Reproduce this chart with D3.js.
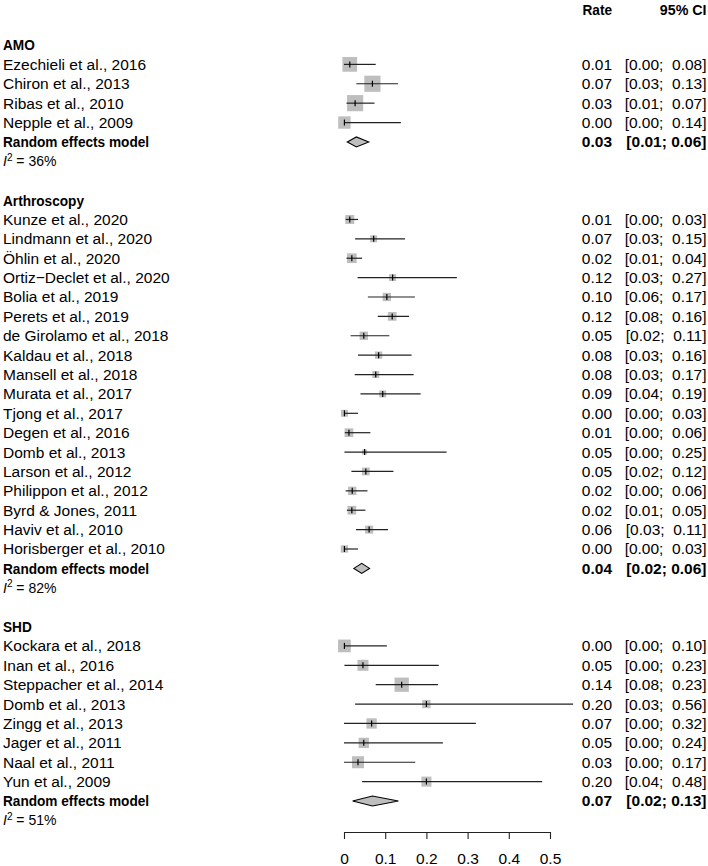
<!DOCTYPE html>
<html>
<head>
<meta charset="utf-8">
<script src="https://cdn.jsdelivr.net/npm/d3@7"></script>
<style>
  html, body { margin: 0; padding: 0; background: #fff; }
  svg { display: block; font-family: "Liberation Sans", Arial, Helvetica, sans-serif; }
  text { white-space: pre; }
</style>
</head>
<body>
<svg id="chart" width="708" height="866"></svg>
<script>
// ---------------- DATA ----------------
const groupNames = ["AMO", "Arthroscopy", "SHD"];

const amoStudies = ["Ezechieli et al., 2016", "Chiron et al., 2013", "Ribas et al., 2010", "Nepple et al., 2009"];
const amoRate  = [0.014, 0.069, 0.027, 0.001];
const amoLower = [0.000, 0.030, 0.006, 0.000];
const amoUpper = [0.077, 0.131, 0.074, 0.138];
const amoWeight = [24, 29, 29, 17];
const amoPooled = [0.030, 0.008, 0.060];
const amoI2 = 36;

const arthStudies = ["Kunze et al., 2020", "Lindmann et al., 2020", "Öhlin et al., 2020", "Ortiz\u2212Declet et al., 2020",
  "Bolia et al., 2019", "Perets et al., 2019", "de Girolamo et al., 2018", "Kaldau et al., 2018", "Mansell et al., 2018",
  "Murata et al., 2017", "Tjong et al., 2017", "Degen et al., 2016", "Domb et al., 2013", "Larson et al., 2012",
  "Philippon et al., 2012", "Byrd & Jones, 2011", "Haviv et al., 2010", "Horisberger et al., 2010"];
const arthRate  = [0.014, 0.072, 0.019, 0.118, 0.104, 0.117, 0.048, 0.084, 0.077, 0.094, 0.001, 0.012, 0.050, 0.053, 0.020, 0.019, 0.061, 0.001];
const arthLower = [0.004, 0.027, 0.006, 0.033, 0.058, 0.082, 0.016, 0.034, 0.026, 0.040, 0.000, 0.002, 0.001, 0.018, 0.004, 0.007, 0.029, 0.000];
const arthUpper = [0.034, 0.148, 0.044, 0.274, 0.172, 0.158, 0.110, 0.164, 0.169, 0.186, 0.034, 0.064, 0.249, 0.120, 0.057, 0.052, 0.107, 0.034];
const arthWeight = [9, 5.4, 10.4, 5.4, 7.7, 8.4, 7.7, 5.9, 5.4, 5.4, 5.4, 8.4, 2.8, 6.6, 7.7, 8.4, 7.1, 5.9];
const arthPooled = [0.043, 0.024, 0.062];
const arthI2 = 82;

const shdStudies = ["Kockara et al., 2018", "Inan et al., 2016", "Steppacher et al., 2014", "Domb et al., 2013",
  "Zingg et al., 2013", "Jager et al., 2011", "Naal et al., 2011", "Yun et al., 2009"];
const shdRate  = [0.001, 0.046, 0.140, 0.200, 0.067, 0.048, 0.034, 0.200];
const shdLower = [0.000, 0.001, 0.077, 0.027, 0.000, 0.000, 0.000, 0.044];
const shdUpper = [0.104, 0.230, 0.228, 0.556, 0.320, 0.240, 0.173, 0.481];
const shdWeight = [17.9, 13.4, 22.7, 7.7, 11.8, 11.8, 16, 11.1];
const shdPooled = [0.069, 0.021, 0.132];
const shdI2 = 51;

const modelLabel = "Random effects model";
const headerLabels = ["Rate", "95% CI"];
const tickValues = [0, 0.1, 0.2, 0.3, 0.4, 0.5];
const tickLabels = ["0", "0.1", "0.2", "0.3", "0.4", "0.5"];

// ---------------- BUILD ROWS ----------------
const groups = [
  { name: groupNames[0], studies: amoStudies, rate: amoRate, lo: amoLower, hi: amoUpper, w: amoWeight, pooled: amoPooled, i2: amoI2 },
  { name: groupNames[1], studies: arthStudies, rate: arthRate, lo: arthLower, hi: arthUpper, w: arthWeight, pooled: arthPooled, i2: arthI2 },
  { name: groupNames[2], studies: shdStudies, rate: shdRate, lo: shdLower, hi: shdUpper, w: shdWeight, pooled: shdPooled, i2: shdI2 }
];

const rows = [];
let r = 0;
groups.forEach((g, gi) => {
  rows.push({ type: "group", row: r++, label: g.name });
  g.studies.forEach((s, i) => {
    rows.push({ type: "study", row: r++, label: s, est: g.rate[i], lo: g.lo[i], hi: g.hi[i], w: g.w[i] });
  });
  rows.push({ type: "pooled", row: r++, label: modelLabel, est: g.pooled[0], lo: g.pooled[1], hi: g.pooled[2] });
  rows.push({ type: "i2", row: r++, value: g.i2 });
  if (gi < groups.length - 1) r++; // blank line
});

// ---------------- SCALES ----------------
const svg = d3.select("#chart");
const y = d3.scaleLinear().domain([0, 39]).range([45, 801]);
const x = d3.scaleLinear().domain([0, 0.5]).range([344, 550]);
const sizeScale = d3.scaleSqrt().domain([0, 25]).range([0, 15]);
const fmt = d3.format(".2f");
const ciText = (lo, hi) => "[" + fmt(lo) + ";\u00a0 " + fmt(hi) + "]";

const FS = 15.5;
const rateRight = 612, ciRight = 706.5, labelLeft = 3;
const boxFill = "#bebebe", lineCol = "#222";

function plain(tx, ty, str, anchor) {
  return svg.append("text").attr("x", tx).attr("y", ty).attr("dy", "0.35em")
    .attr("text-anchor", anchor || "start").attr("font-size", FS).text(str);
}
function bold(tx, ty, str, anchor, sx) {
  return svg.append("text").attr("transform", `translate(${tx},${ty}) scale(${sx},1)`)
    .attr("dy", "0.35em").attr("text-anchor", anchor || "start")
    .attr("font-weight", "bold").attr("font-size", FS).text(str);
}

// ---------------- HEADER ----------------
bold(rateRight, 9.5, headerLabels[0], "end", 0.88);
bold(ciRight, 9.5, headerLabels[1], "end", 0.92);

// ---------------- ROWS ----------------
rows.forEach(d => {
  const cy = y(d.row);
  if (d.type === "group") {
    bold(labelLeft, cy, d.label, "start", 0.88);
  } else if (d.type === "study") {
    plain(labelLeft, cy, d.label);
    const s = sizeScale(d.w);
    svg.append("rect").attr("x", x(d.est) - s / 2).attr("y", cy - s / 2)
      .attr("width", s).attr("height", s).attr("fill", boxFill);
    svg.append("line").attr("x1", x(d.lo)).attr("x2", x(d.hi)).attr("y1", cy).attr("y2", cy)
      .attr("stroke", lineCol).attr("stroke-width", 1.2);
    svg.append("line").attr("x1", x(d.est)).attr("x2", x(d.est)).attr("y1", cy - 3).attr("y2", cy + 3)
      .attr("stroke", "#000").attr("stroke-width", 1.2);
    plain(rateRight, cy, fmt(d.est), "end");
    plain(ciRight, cy, ciText(d.lo, d.hi), "end");
  } else if (d.type === "pooled") {
    bold(labelLeft, cy, d.label, "start", 0.88);
    const h = 5;
    const pts = [[x(d.lo), cy], [x(d.est), cy - h], [x(d.hi), cy], [x(d.est), cy + h]];
    svg.append("path").attr("d", d3.line()(pts) + "Z")
      .attr("fill", boxFill).attr("stroke", "#000").attr("stroke-width", 1.1);
    bold(rateRight, cy, fmt(d.est), "end", 1);
    bold(ciRight, cy, "[" + fmt(d.lo) + "; " + fmt(d.hi) + "]", "end", 1);
  } else if (d.type === "i2") {
    const t = svg.append("text").attr("x", labelLeft).attr("y", cy).attr("dy", "0.35em").attr("font-size", 14);
    t.append("tspan").attr("font-style", "italic").text("I");
    t.append("tspan").attr("font-size", 10).attr("dy", "-0.55em").text("2");
    t.append("tspan").attr("dy", "0.4em").text(" = " + d.value + "%");
  }
});

// ---------------- AXIS ----------------
const axisY = y(40.6);
const axis = d3.axisBottom(x).tickValues(tickValues)
  .tickFormat((v, i) => tickLabels[i]).tickSize(7).tickSizeOuter(0).tickPadding(14);
const ag = svg.append("g").attr("transform", `translate(0,${axisY})`).call(axis);
ag.selectAll("path, line").attr("stroke", lineCol).attr("stroke-width", 1.1);
ag.selectAll("text").attr("font-size", FS).attr("fill", "#000")
  .attr("font-family", "'Liberation Sans', Arial, Helvetica, sans-serif");
</script>
</body>
</html>
